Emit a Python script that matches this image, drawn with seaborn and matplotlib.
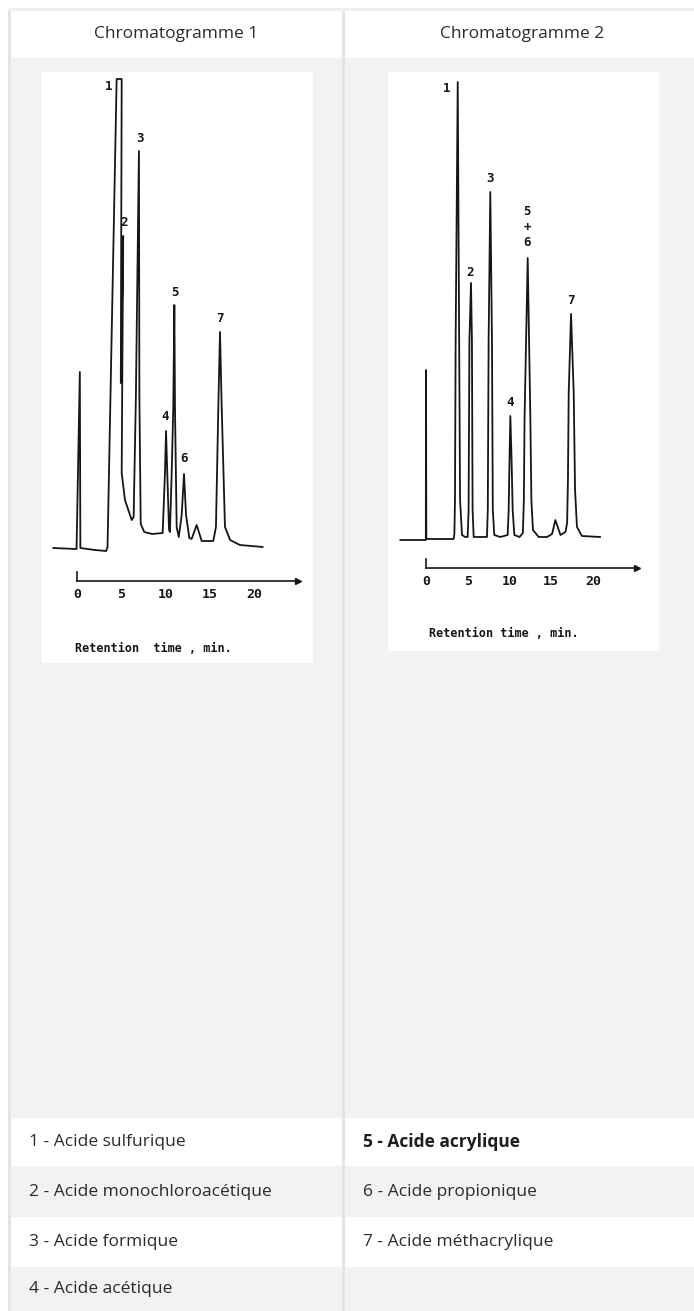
import matplotlib
matplotlib.use("Agg")
import matplotlib.pyplot as plt
import seaborn as sns
from matplotlib.patches import Rectangle

c1_time = [-2.7, -0.05, 0.32, 0.38, 2.0, 3.3, 3.45, 4.48, 5.05, 4.95, 5.22, 5.1, 5.05, 5.42,
           6.18, 6.4, 6.65, 7.0, 7.05, 7.2, 7.6, 8.5, 9.68, 9.94, 10.06, 10.2, 10.4, 10.5,
           10.7, 10.88, 11.0, 11.07, 11.26, 11.5, 11.83, 12.09, 12.32, 12.69, 12.95, 13.52,
           14.09, 15.4, 15.7, 15.97, 16.16, 16.35, 16.72, 17.3, 18.4, 21.0]
c1_signal = [1, 0, 177, 1, -1, -2, 2, 470, 470, 166, 313, 150, 76, 49,
             29, 32, 150, 398, 150, 25, 17, 15, 16, 76, 118, 76, 19, 17,
             76, 142, 244, 142, 22, 12, 34, 75, 34, 11, 10, 24,
             8, 8, 22, 142, 217, 142, 22, 9, 4, 2]
c1_peak_ids = ["1", "2", "3", "4", "5", "6", "7"]
c1_peak_time = [3.54, 5.31, 7.12, 10.0, 11.03, 12.09, 16.16]
c1_peak_label = [463, 327, 411, 132, 257, 91, 231]

# Chromatogramme 2
c2_time = [-3.1, -0.02, 0.0, 0.04, 3.3, 3.4, 3.47, 3.55, 3.8, 3.97, 4.08, 4.31, 4.7,
           4.99, 5.1, 5.2, 5.39, 5.5, 5.58, 5.71, 6.5,
           7.3, 7.4, 7.5, 7.7, 7.9, 8.0, 8.18, 8.9,
           9.78, 9.9, 10.0, 10.1, 10.25, 10.38, 10.58, 11.2,
           11.6, 11.72, 11.8, 12.18, 12.5, 12.62, 12.81, 13.5, 14.5, 15.1, 15.49, 16.1, 16.7,
           16.9, 17.0, 17.09, 17.37, 17.69, 17.85, 18.08, 18.68, 20.87]
c2_signal = [0, 0, 170, 1, 1, 6, 40, 200, 458, 200, 40, 5, 3,
             3, 30, 200, 257, 200, 30, 3, 3,
             3, 30, 200, 348, 200, 30, 5, 3,
             5, 30, 80, 124, 80, 30, 5, 3,
             7, 40, 120, 282, 120, 40, 10, 3, 3, 6, 20, 5, 8,
             17, 60, 147, 226, 147, 50, 13, 4, 3]
c2_peak_ids = ["1", "2", "3", "4", "5\n+\n6", "7"]
c2_peak_time = [2.5, 5.3, 7.62, 10.1, 12.1, 17.3]
c2_peak_label = [452, 267, 362, 138, 313, 240]

time_ticks = [0, 5, 10, 15, 20]
headers = ["Chromatogramme 1", "Chromatogramme 2"]
legend_left = ["1 - Acide sulfurique", "2 - Acide monochloroacétique",
               "3 - Acide formique", "4 - Acide acétique"]
legend_right = ["5 - Acide acrylique", "6 - Acide propionique",
                "7 - Acide méthacrylique", ""]

sns.set_theme(style="white")
plt.rcParams['font.family'] = ['Open Sans', 'DejaVu Sans']
MONO = 'DejaVu Sans Mono'
INK = '#161616'
TXT = '#2b2b2b'

W, H = 694, 1311
fig = plt.figure(figsize=(W / 100, H / 100), dpi=100)
fig.patch.set_facecolor('white')

# fond du tableau, en pixels
bg = fig.add_axes([0, 0, 1, 1])
bg.set_xlim(0, W)
bg.set_ylim(H, 0)
bg.axis('off')


def box(x0, y0, x1, y1, c):
    bg.add_patch(Rectangle((x0, y0), x1 - x0, y1 - y0, color=c, lw=0))


box(8, 8, W, 11, '#efefef')
box(11, 11, W, 58, 'white')
box(11, 58, W, 1118, '#f2f2f2')
row_edges = [1118, 1166, 1217, 1267, H]
for i in range(4):
    box(11, row_edges[i], W, row_edges[i + 1], 'white' if i % 2 == 0 else '#f2f2f2')
box(8, 11, 11, H, '#e4e4e4')
box(342, 11, 345, H, '#e4e4e4')

bg.text(176, 34, headers[0], ha='center', va='center', fontsize=12.5, color=TXT)
bg.text(522, 34, headers[1], ha='center', va='center', fontsize=12.5, color=TXT)

for i in range(4):
    yc = (row_edges[i] + row_edges[i + 1]) / 2
    bg.text(29, yc, legend_left[i], ha='left', va='center', fontsize=12.5, color=TXT)
    bg.text(363, yc, legend_right[i], ha='left', va='center', fontsize=12.5,
            color='#1e1e1e' if i == 0 else TXT, weight='bold' if i == 0 else 'normal')


def chromatogram(frame, t0_px, px_min, base_px, axis_s, arrow_t, times, signal,
                 ids, peak_t, peak_s, xlabel, label_t, label_s):
    x0, y0, x1, y1 = frame
    ax = fig.add_axes([x0 / W, 1 - y1 / H, (x1 - x0) / W, (y1 - y0) / H])
    ax.set_facecolor('white')
    sns.lineplot(x=times, y=signal, sort=False, estimator=None, color=INK,
                 lw=1.3, ax=ax)
    ax.set_xlim((x0 - t0_px) / px_min, (x1 - t0_px) / px_min)
    ax.set_ylim(base_px - y1, base_px - y0)

    for s in ['top', 'right']:
        ax.spines[s].set_visible(False)
    ax.spines['bottom'].set_position(('data', axis_s))
    ax.spines['bottom'].set_bounds(0, arrow_t)
    ax.spines['left'].set_position(('data', 0))
    ax.spines['left'].set_bounds(axis_s, axis_s + 9)
    for s in ['bottom', 'left']:
        ax.spines[s].set_color(INK)
        ax.spines[s].set_linewidth(1.2)
    ax.plot(arrow_t, axis_s, marker='>', color=INK, ms=4.5, clip_on=False)
    ax.set_yticks([])
    ax.set_xticks(time_ticks)
    ax.set_xticklabels([str(t) for t in time_ticks], fontweight='bold')
    ax.tick_params(axis='x', direction='in', length=2.5, width=1.2, pad=5,
                   labelsize=9.5, colors=INK, labelfontfamily=MONO)
    ax.set_xlabel('')
    ax.set_ylabel('')

    for pid, t, s in zip(ids, peak_t, peak_s):
        ax.text(t, s, pid, ha='center', va='center', fontsize=9, family=MONO,
                weight='bold', color=INK, linespacing=1.25)
    ax.text(label_t, label_s, xlabel, ha='center', va='center', fontsize=8.5,
            family=MONO, weight='bold', color=INK)
    return ax


chromatogram((42, 72, 313, 663), 77, 8.85, 549, -32, 24.97,
             c1_time, c1_signal, c1_peak_ids, c1_peak_time, c1_peak_label,
             "Retention  time , min.", 8.64, -99)
chromatogram((388, 72, 659, 651), 426, 8.35, 540, -28, 25.3,
             c2_time, c2_signal, c2_peak_ids, c2_peak_time, c2_peak_label,
             "Retention time , min.", 9.34, -93)

fig.savefig('out.png', dpi=100)
